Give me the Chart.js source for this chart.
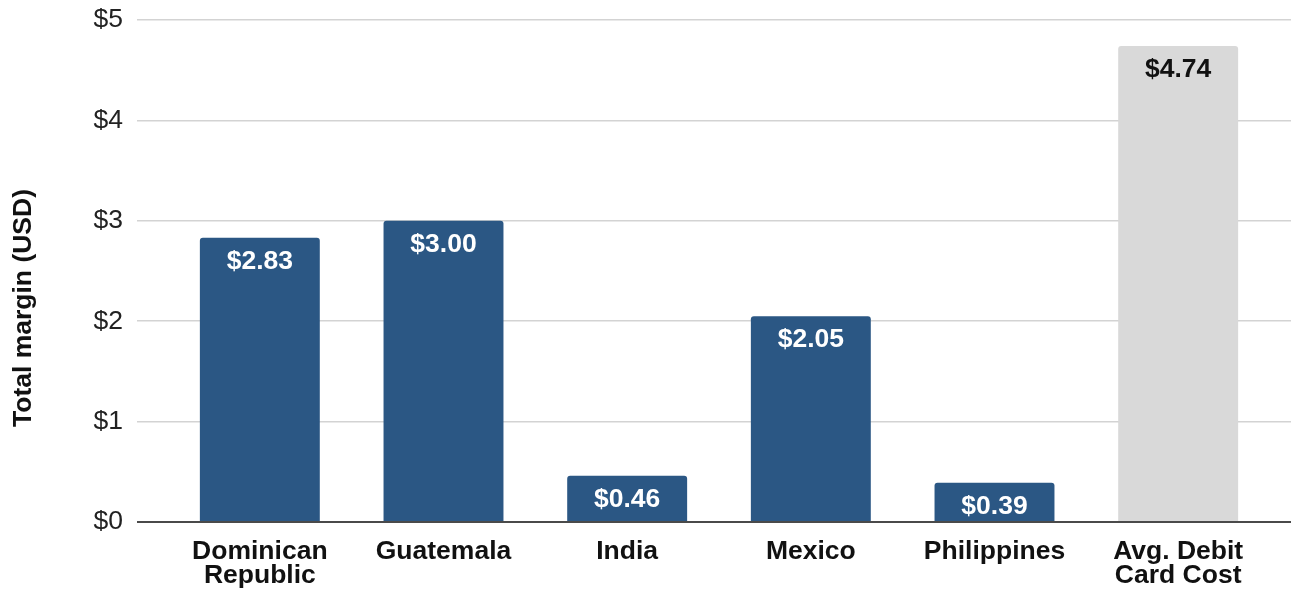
<!DOCTYPE html>
<html>
<head>
<meta charset="utf-8">
<script src="https://cdn.jsdelivr.net/npm/chart.js@4.4.1/dist/chart.umd.min.js"></script>
<style>
  html, body { margin: 0; padding: 0; background: #ffffff; }
  #wrap { width: 1291px; height: 589px; position: relative; }
</style>
</head>
<body>
<div id="wrap"><canvas id="chart"></canvas></div>
<script>
// Total margin per remittance corridor vs. average debit card cost
const categories = [
  ['Dominican', 'Republic'],
  'Guatemala',
  'India',
  'Mexico',
  'Philippines',
  ['Avg. Debit', 'Card Cost']
];
const margins = [2.83, 3.00, 0.46, 2.05, 0.39, 4.74];
const yTickValues = [0, 1, 2, 3, 4, 5];
const yTitle = 'Total margin (USD)';

const FONT = '"Liberation Sans", Arial, Helvetica, sans-serif';
const FONT_SIZE = 26.5;
const BLUE = '#2b5784';
const GREY = '#d9d9d9';
const lastIndex = margins.length - 1;

const gridColor = ctx => (ctx.tick && ctx.tick.value === 0) ? '#4a4a4a' : '#d3d3d3';
const gridWidth = ctx => (ctx.tick && ctx.tick.value === 0) ? 2 : 1.5;

// Value labels drawn inside the top of each bar
const valueLabels = {
  id: 'valueLabels',
  afterDatasetsDraw(chart) {
    const { ctx } = chart;
    const meta = chart.getDatasetMeta(0);
    ctx.save();
    ctx.font = 'bold ' + FONT_SIZE + 'px ' + FONT;
    ctx.textAlign = 'center';
    ctx.textBaseline = 'middle';
    meta.data.forEach((bar, i) => {
      ctx.fillStyle = i === lastIndex ? '#111111' : '#ffffff';
      ctx.fillText('$' + margins[i].toFixed(2), bar.x, bar.y + 24);
    });
    ctx.restore();
  }
};

// Rotated y-axis title
const axisTitle = {
  id: 'axisTitle',
  afterDraw(chart) {
    const { ctx } = chart;
    ctx.save();
    ctx.translate(24, 308);
    ctx.rotate(-Math.PI / 2);
    ctx.font = 'bold ' + FONT_SIZE + 'px ' + FONT;
    ctx.fillStyle = '#111111';
    ctx.textAlign = 'center';
    ctx.textBaseline = 'middle';
    ctx.fillText(yTitle, 0, 0);
    ctx.restore();
  }
};

new Chart(document.getElementById('chart'), {
  type: 'bar',
  data: {
    labels: categories,
    datasets: [{
      data: margins,
      backgroundColor: ctx => ctx.dataIndex === lastIndex ? GREY : BLUE,
      borderRadius: { topLeft: 3, topRight: 3, bottomLeft: 0, bottomRight: 0 },
      borderSkipped: 'start',
      categoryPercentage: 1,
      barPercentage: 0.653
    }]
  },
  options: {
    responsive: true,
    maintainAspectRatio: false,
    animation: false,
    layout: { padding: { top: 20, right: 0, bottom: 0, left: 0 } },
    plugins: {
      legend: { display: false },
      tooltip: { enabled: false }
    },
    scales: {
      x: {
        grid: { display: false },
        border: { display: false },
        ticks: {
          color: '#111111',
          font: { family: FONT, size: FONT_SIZE, weight: 'bold', lineHeight: 0.92 },
          padding: 9,
          maxRotation: 0,
          autoSkip: false
        },
        afterFit(scale) { scale.height = 67; }
      },
      y: {
        position: 'left',
        min: 0,
        max: 5,
        afterBuildTicks(scale) { scale.ticks = yTickValues.map(v => ({ value: v })); },
        grid: { color: gridColor, lineWidth: gridWidth, tickLength: 31, tickColor: gridColor },
        border: { display: false },
        ticks: {
          color: '#222222',
          font: { family: FONT, size: FONT_SIZE },
          padding: 14,
          callback: v => '$' + v
        },
        afterFit(scale) {
          scale.width = 168;
          scale.paddingTop = 0;
          scale.paddingBottom = 0;
        }
      },
      yRight: {
        position: 'right',
        min: 0,
        max: 5,
        afterBuildTicks(scale) { scale.ticks = yTickValues.map(v => ({ value: v })); },
        grid: { color: gridColor, lineWidth: gridWidth, tickLength: 21, drawOnChartArea: false },
        border: { display: false },
        ticks: { display: false },
        afterFit(scale) {
          scale.width = 21;
          scale.paddingTop = 0;
          scale.paddingBottom = 0;
        }
      }
    }
  },
  plugins: [valueLabels, axisTitle]
});
</script>
</body>
</html>
